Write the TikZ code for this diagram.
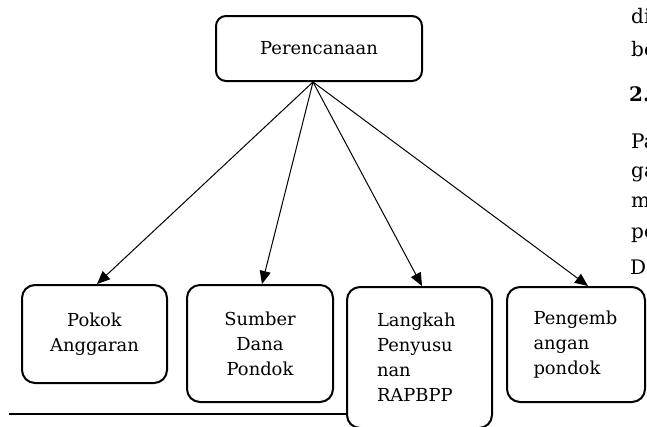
\documentclass[tikz,border=0pt]{standalone}
\usepackage{fontspec}
\setmainfont{DejaVu Serif}
\usetikzlibrary{arrows.meta}
\begin{document}
\begin{tikzpicture}[x=1pt,y=-1pt,
  box/.style={draw=black,line width=2pt,rounded corners=13pt,fill=white,inner sep=0pt,
    font=\fontsize{17.9}{25}\selectfont},
  topbox/.style={box,rounded corners=10pt,minimum width=206pt,minimum height=65pt},
  conn/.style={draw=black,line width=1pt,-{Triangle[length=13pt,width=11pt]}},
  frag/.style={anchor=base west,inner sep=0pt,font=\fontsize{20}{28}\selectfont},
  pagerule/.style={line width=2.5pt}]
\useasboundingbox (0,0) rectangle (647,426);
\clip (0,0) rectangle (647,426);
\fill[white] (0,0) rectangle (647,426);
% page text fragments at the right edge
\node[frag] (f1) at (631,23) {di};
\node[frag] (f2) at (631,56) {be};
\node[frag] (f3) at (629,101) {\bfseries 2.};
\node[frag] (f4) at (631,148) {Pa};
\node[frag] (f5) at (631,177) {ga};
\node[frag] (f6) at (631,207) {m};
\node[frag] (f7) at (631,238) {pe};
\node[frag] (f8) at (630,274) {D};
% page rule
\draw[pagerule] (9,414) -- (352,414);
% nodes
\node[topbox] (top) at (319,48.5) {Perencanaan};
\node[box,minimum width=145pt,minimum height=98pt,align=center] (b1) at (94.5,334) {Pokok\\Anggaran};
\node[box,minimum width=146pt,minimum height=117pt,align=center] (b2) at (260,343.5) {Sumber\\Dana\\Pondok};
\node[box,minimum width=145pt,minimum height=141pt,text width=85pt,align=left] (b3) at (419.5,357.5) {Langkah\\Penyusu\\nan\\RAPBPP};
\node[box,minimum width=138pt,minimum height=115pt,text width=85pt,align=left] (b4) at (576,344.5) {Pengemb\\angan\\pondok};
% connectors
\coordinate (apex) at ([xshift=-6pt]top.south);
\draw[conn] (apex) -- ([xshift=2.5pt]b1.north);
\draw[conn] (apex) -- ([xshift=2pt]b2.north);
\draw[conn] (apex) -- ([xshift=2.5pt]b3.north);
\draw[conn] (apex) -- ([xshift=12pt]b4.north);
\end{tikzpicture}
\end{document}
